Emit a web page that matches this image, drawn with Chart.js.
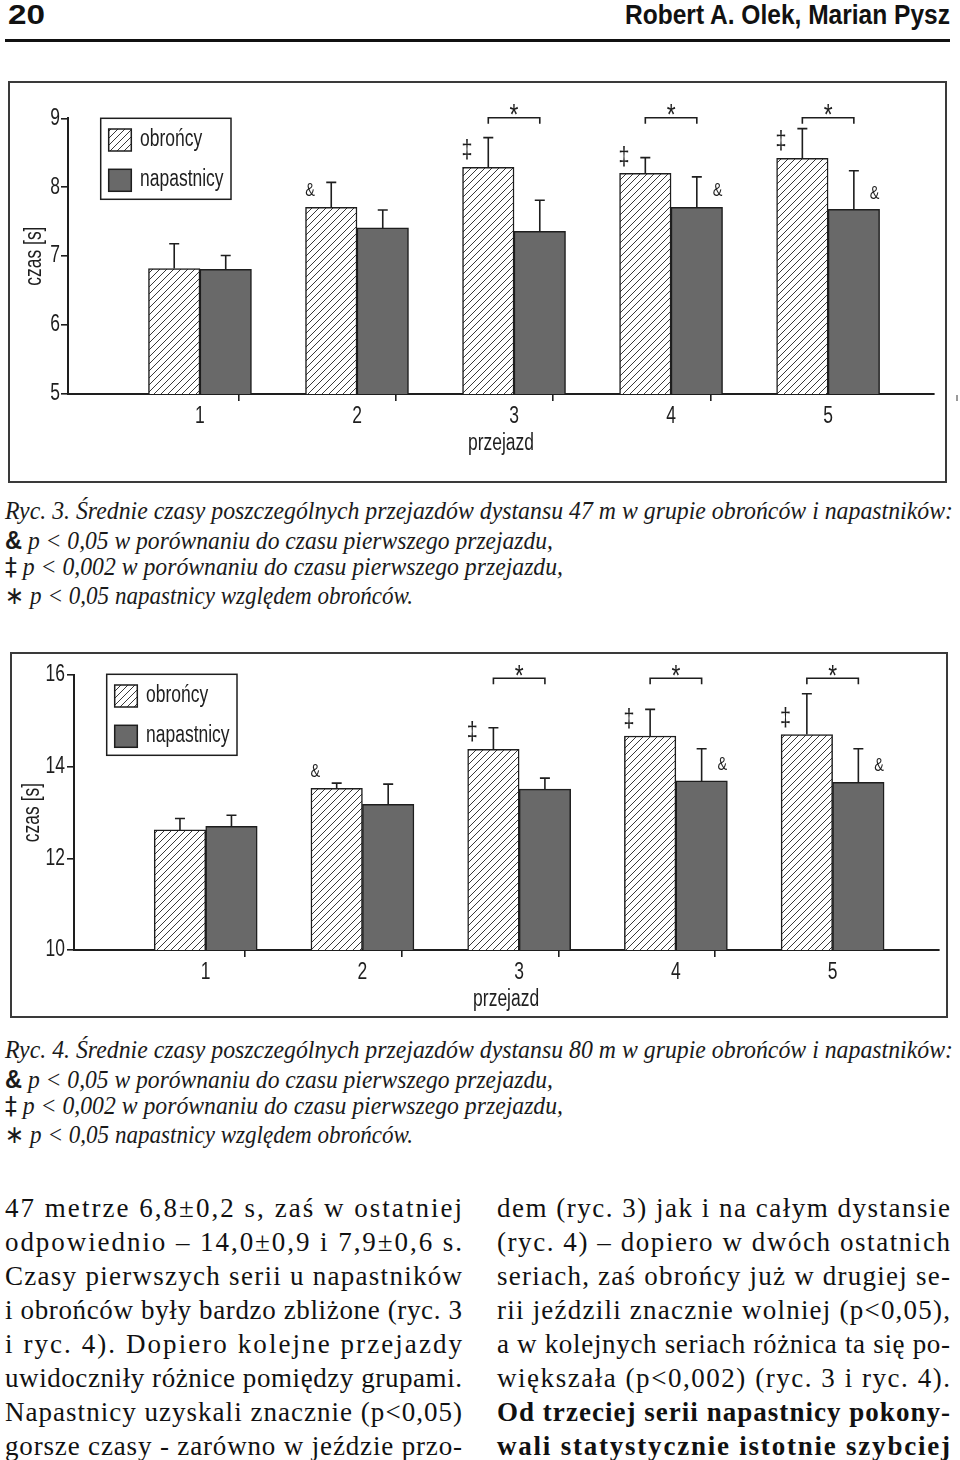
<!DOCTYPE html>
<html lang="pl">
<head>
<meta charset="utf-8">
<title>Ryc. 3 i Ryc. 4</title>
<script src="https://cdn.jsdelivr.net/npm/chart.js@4"></script>
<style>
  html, body { margin: 0; padding: 0; background: #fff; }
  body { width: 960px; height: 1460px; position: relative; overflow: hidden; color: #141414; }
  .abs { position: absolute; white-space: nowrap; }
  .hdr { font-family: "Liberation Sans", Arial, sans-serif; font-weight: bold; font-size: 28px; line-height: 28px; transform-origin: left center; color: #111; }
  .rule { position: absolute; left: 5px; top: 39px; width: 945px; height: 3px; background: #111; }
  .frame { position: absolute; border: 2px solid #3a3a3a; box-sizing: border-box; }
  canvas { position: absolute; }
  .cap { font-family: "Liberation Serif", "DejaVu Serif", serif; font-style: italic; font-size: 25px; line-height: 28px; left: 5px; transform-origin: left center; color: #1a1a1a; }
  .cap .sym { font-style: normal; font-family: "Liberation Sans", sans-serif; font-weight: bold; }
  .cap .sym2 { font-style: normal; font-family: "DejaVu Sans", sans-serif; }
  .txt { font-family: "Liberation Serif", "DejaVu Serif", serif; font-size: 27px; line-height: 34px; color: #111; }
  .txt.b { font-weight: bold; }
</style>
</head>
<body>

<div class="abs hdr" style="left:8px; top:1px" data-w="37">20</div>
<div class="abs hdr" style="left:625px; top:1px" data-w="325">Robert A. Olek, Marian Pysz</div>
<div class="rule"></div>

<!-- Ryc. 3 -->
<div class="frame" style="left:8px; top:81px; width:939px; height:402px"></div>
<canvas id="ryc3" width="935" height="398" style="left:10px; top:83px"></canvas>
<div class="abs" style="left:956px; top:395px; width:2px; height:6px; background:#9a9a9a"></div>

<div class="abs cap" style="top:497px" data-w="948">Ryc. 3. Średnie czasy poszczególnych przejazdów dystansu 47 m w grupie obrońców i napastników:</div>
<div class="abs cap" style="top:526px" data-w="548"><span class="sym">&amp;</span> p &lt; 0,05 w porównaniu do czasu pierwszego przejazdu,</div>
<div class="abs cap" style="top:553px" data-w="558"><span class="sym2">‡</span> p &lt; 0,002 w porównaniu do czasu pierwszego przejazdu,</div>
<div class="abs cap" style="top:582px" data-w="408"><span class="sym2">∗</span> p &lt; 0,05 napastnicy względem obrońców.</div>

<!-- Ryc. 4 -->
<div class="frame" style="left:10px; top:652px; width:938px; height:366px"></div>
<canvas id="ryc4" width="934" height="362" style="left:12px; top:654px"></canvas>

<div class="abs cap" style="top:1036px" data-w="948">Ryc. 4. Średnie czasy poszczególnych przejazdów dystansu 80 m w grupie obrońców i napastników:</div>
<div class="abs cap" style="top:1065px" data-w="548"><span class="sym">&amp;</span> p &lt; 0,05 w porównaniu do czasu pierwszego przejazdu,</div>
<div class="abs cap" style="top:1092px" data-w="558"><span class="sym2">‡</span> p &lt; 0,002 w porównaniu do czasu pierwszego przejazdu,</div>
<div class="abs cap" style="top:1121px" data-w="408"><span class="sym2">∗</span> p &lt; 0,05 napastnicy względem obrońców.</div>

<div id="textCols"></div>

<script>
/* ============================
   ============================ */

const przejazdy = ['1', '2', '3', '4', '5'];

// Ryc. 3 – dystans 47 m
const obroncy47 = [6.82, 7.71, 8.29, 8.20, 8.42];
const obroncy47Sd = [0.36, 0.36, 0.43, 0.23, 0.43];
const napastnicy47 = [6.81, 7.41, 7.36, 7.71, 7.68];
const napastnicy47Sd = [0.20, 0.26, 0.45, 0.44, 0.56];
const ticks47 = [5, 6, 7, 8, 9];

// Ryc. 4 – dystans 80 m
const obroncy80 = [12.62, 13.53, 14.38, 14.67, 14.70];
const obroncy80Sd = [0.25, 0.11, 0.47, 0.58, 0.89];
const napastnicy80 = [12.70, 13.18, 13.51, 13.69, 13.66];
const napastnicy80Sd = [0.24, 0.44, 0.24, 0.70, 0.73];
const ticks80 = [10, 12, 14, 16];

// oznaczenia istotności
const marksObroncy = ['', '&', '‡', '‡', '‡'];
const marksNapastnicy = ['', '', '', '&', '&'];
const starMarks = [false, false, true, true, true];

const leftColumn = [
    '47 metrze 6,8±0,2 s, zaś w ostatniej',
    'odpowiednio – 14,0±0,9 i 7,9±0,6 s.',
    'Czasy pierwszych serii u napastników',
    'i obrońców były bardzo zbliżone (ryc. 3',
    'i ryc. 4). Dopiero kolejne przejazdy',
    'uwidoczniły różnice pomiędzy grupami.',
    'Napastnicy uzyskali znacznie (p<0,05)',
    'gorsze czasy - zarówno w jeździe przo-'
];
const rightColumn = [
    'dem (ryc. 3) jak i na całym dystansie',
    '(ryc. 4) – dopiero w dwóch ostatnich',
    'seriach, zaś obrońcy już w drugiej se-',
    'rii jeździli znacznie wolniej (p<0,05),',
    'a w kolejnych seriach różnica ta się po-',
    'większała (p<0,002) (ryc. 3 i ryc. 4).',
    '**Od trzeciej serii napastnicy pokony-',
    '**wali statystycznie istotnie szybciej'
];

/* ============================
   Styl
   ============================ */

const INK = '#1e1e1e';
const DARK_FILL = '#696969';
const SANS = '"Liberation Sans", Arial, sans-serif';
const CONDENSE = 0.76;   // Helvetica Condensed look
const FONT_SIZE = 23;

function makeHatch() {
    const c = document.createElement('canvas');
    c.width = 7;
    c.height = 7;
    const g = c.getContext('2d');
    g.fillStyle = '#fff';
    g.fillRect(0, 0, 7, 7);
    g.strokeStyle = '#3a3a3a';
    g.lineWidth = 1;
    g.beginPath();
    g.moveTo(-1, 8); g.lineTo(8, -1);
    g.moveTo(-1, 1); g.lineTo(1, -1);
    g.moveTo(6, 8); g.lineTo(8, 6);
    g.stroke();
    return g.createPattern(c, 'repeat');
}
const hatch = makeHatch();

// condensed text on canvas
function drawText(ctx, text, x, y, align, size, rotate) {
    ctx.save();
    ctx.translate(x, y);
    if (rotate) ctx.rotate(-Math.PI / 2);
    ctx.scale(CONDENSE, 1);
    ctx.font = size + 'px ' + SANS;
    ctx.fillStyle = INK;
    ctx.textAlign = align;
    ctx.textBaseline = 'middle';
    ctx.fillText(text, 0, 0);
    ctx.restore();
}

/* ============================
   Plugin: słupki błędów, oznaczenia, opisy osi, legenda
   ============================ */

const rycPlugin = {
    id: 'ryc',
    afterDatasetsDraw(chart, args, opts) {
        const ctx = chart.ctx;
        const yScale = chart.scales.y;
        const area = chart.chartArea;
        ctx.save();
        ctx.strokeStyle = INK;
        ctx.lineWidth = 1.6;

        // error bars (only upward)
        chart.data.datasets.forEach((ds, di) => {
            chart.getDatasetMeta(di).data.forEach((bar, i) => {
                const top = yScale.getPixelForValue(ds.data[i].y + ds.sd[i]);
                ctx.beginPath();
                ctx.moveTo(bar.x, bar.y);
                ctx.lineTo(bar.x, top);
                ctx.moveTo(bar.x - 5, top);
                ctx.lineTo(bar.x + 5, top);
                ctx.stroke();
            });
        });

        // & and ‡ marks
        chart.data.datasets.forEach((ds, di) => {
            chart.getDatasetMeta(di).data.forEach((bar, i) => {
                const m = ds.marks[i];
                if (!m) return;
                const x = di === 0 ? bar.x - bar.width / 2 + 4.5 : bar.x + bar.width / 2 - 5;
                drawText(ctx, m, x, bar.y - 16, 'center', m === '‡' ? 26 : 19);
            });
        });

        // brackets with *
        const a = chart.getDatasetMeta(0).data;
        const b = chart.getDatasetMeta(1).data;
        const by = area.top + opts.bracketOffset;
        opts.stars.forEach((on, i) => {
            if (!on) return;
            ctx.beginPath();
            ctx.moveTo(a[i].x, by + 6);
            ctx.lineTo(a[i].x, by);
            ctx.lineTo(b[i].x, by);
            ctx.lineTo(b[i].x, by + 6);
            ctx.stroke();
            drawText(ctx, '*', (a[i].x + b[i].x) / 2, by - 2, 'center', 30);
        });
        ctx.restore();
    },
    afterDraw(chart, args, opts) {
        const ctx = chart.ctx;
        const area = chart.chartArea;
        const xs = chart.scales.x;
        const ys = chart.scales.y;

        // tick labels and axis titles
        ys.ticks.forEach(t => drawText(ctx, String(t.value), area.left - opts.yLabelGap, ys.getPixelForValue(t.value), 'right', FONT_SIZE));
        xs.ticks.forEach(t => {
            if (Number.isInteger(t.value)) {
                drawText(ctx, przejazdy[t.value - 1], xs.getPixelForValue(t.value), area.bottom + 23, 'center', FONT_SIZE);
            }
        });
        drawText(ctx, 'przejazd', (area.left + area.right) / 2, area.bottom + 50, 'center', FONT_SIZE);
        drawText(ctx, 'czas [s]', opts.yTitleX, (area.top + area.bottom) / 2, 'center', FONT_SIZE, true);

        // legend box
        const lx = area.left + 32.7;
        const ly = area.top + opts.legendOffset;
        ctx.save();
        ctx.fillStyle = '#fff';
        ctx.fillRect(lx, ly, 130.3, 81);
        ctx.strokeStyle = INK;
        ctx.lineWidth = 1.5;
        ctx.strokeRect(lx, ly, 130.3, 81);
        chart.data.datasets.forEach((ds, di) => {
            const sy = ly + 10.7 + di * 40.3;
            ctx.fillStyle = ds.backgroundColor;
            ctx.fillRect(lx + 8, sy, 22.6, 22);
            ctx.strokeRect(lx + 8, sy, 22.6, 22);
            drawText(ctx, ds.label, lx + 39.3, sy + 10.5, 'left', FONT_SIZE);
        });
        ctx.restore();
    }
};

/* ============================
   Wykresy
   ============================ */

function toPoints(values) {
    return values.map((v, i) => ({ x: i + 1, y: v }));
}

function buildChart(id, o) {
    return new Chart(document.getElementById(id), {
        type: 'bar',
        data: {
            datasets: [
                {
                    label: 'obrońcy',
                    data: toPoints(o.obr),
                    sd: o.obrSd,
                    marks: marksObroncy,
                    backgroundColor: hatch,
                    borderColor: INK,
                    borderWidth: 1.5,
                    barThickness: 51.5
                },
                {
                    label: 'napastnicy',
                    data: toPoints(o.nap),
                    sd: o.napSd,
                    marks: marksNapastnicy,
                    backgroundColor: DARK_FILL,
                    borderColor: INK,
                    borderWidth: 1.5,
                    barThickness: 51.5
                }
            ]
        },
        options: {
            responsive: false,
            animation: false,
            layout: { padding: o.padding },
            plugins: {
                legend: { display: false },
                tooltip: { enabled: false },
                ryc: {
                    stars: starMarks,
                    bracketOffset: o.bracketOffset,
                    legendOffset: o.legendOffset,
                    yTitleX: o.yTitleX,
                    yLabelGap: o.yLabelGap
                }
            },
            scales: {
                x: {
                    type: 'linear',
                    min: 0.466,
                    max: 5.368,
                    afterBuildTicks: s => { s.ticks = [1, 1.5, 2, 2.5, 3, 3.5, 4, 4.5, 5].map(v => ({ value: v })); },
                    afterFit: s => { s.height = 60; },
                    ticks: { display: false, autoSkip: false, maxRotation: 0 },
                    grid: {
                        drawOnChartArea: false,
                        tickLength: 7,
                        lineWidth: 1.6,
                        color: c => (c.tick && !Number.isInteger(c.tick.value)) ? INK : 'rgba(0,0,0,0)'
                    },
                    border: { display: true, color: INK, width: 2 }
                },
                y: {
                    min: o.ticks[0],
                    max: o.ticks[o.ticks.length - 1],
                    afterBuildTicks: s => { s.ticks = o.ticks.map(v => ({ value: v })); },
                    afterFit: s => { s.width = o.yWidth; },
                    ticks: { display: false },
                    grid: {
                        drawOnChartArea: false,
                        tickLength: 7,
                        lineWidth: 1.6,
                        color: INK
                    },
                    border: { display: true, color: INK, width: 2 }
                }
            }
        },
        plugins: [rycPlugin]
    });
}

buildChart('ryc3', {
    obr: obroncy47, obrSd: obroncy47Sd,
    nap: napastnicy47, napSd: napastnicy47Sd,
    ticks: ticks47,
    padding: { left: 0, right: 11, top: 35.3, bottom: 27 },
    yWidth: 58,
    yTitleX: 25,
    yLabelGap: 8,
    bracketOffset: -0.6,
    legendOffset: 0
});

buildChart('ryc4', {
    obr: obroncy80, obrSd: obroncy80Sd,
    nap: napastnicy80, napSd: napastnicy80Sd,
    ticks: ticks80,
    padding: { left: 0, right: 7.7, top: 21, bottom: 6 },
    yWidth: 62,
    yTitleX: 21,
    yLabelGap: 9,
    bracketOffset: 3.3,
    legendOffset: -0.7
});

/* ============================
   Tekst główny (dwie kolumny, justowanie)
   ============================ */

function addColumn(lines, left, width) {
    const box = document.getElementById('textCols');
    lines.forEach((line, i) => {
        const el = document.createElement('div');
        const bold = line.startsWith('**');
        el.className = 'abs txt' + (bold ? ' b' : '');
        el.textContent = bold ? line.slice(2) : line;
        el.style.left = left + 'px';
        el.style.top = (1191 + i * 34) + 'px';
        el.dataset.w = width;
        el.dataset.fit = 'spread';
        box.appendChild(el);
    });
}
addColumn(leftColumn, 5, 457);
addColumn(rightColumn, 497, 453);

function fitAll() {
    document.querySelectorAll('[data-w]').forEach(el => {
        const target = Number(el.dataset.w);
        const w = el.getBoundingClientRect().width;
        if (el.dataset.fit === 'spread') {
            const n = el.textContent.length;
            el.style.letterSpacing = ((target - w) / (n - 1)) + 'px';
        } else {
            el.style.transform = `scaleX(${target / w})`;
        }
    });
}
fitAll();
</script>
</body>
</html>
